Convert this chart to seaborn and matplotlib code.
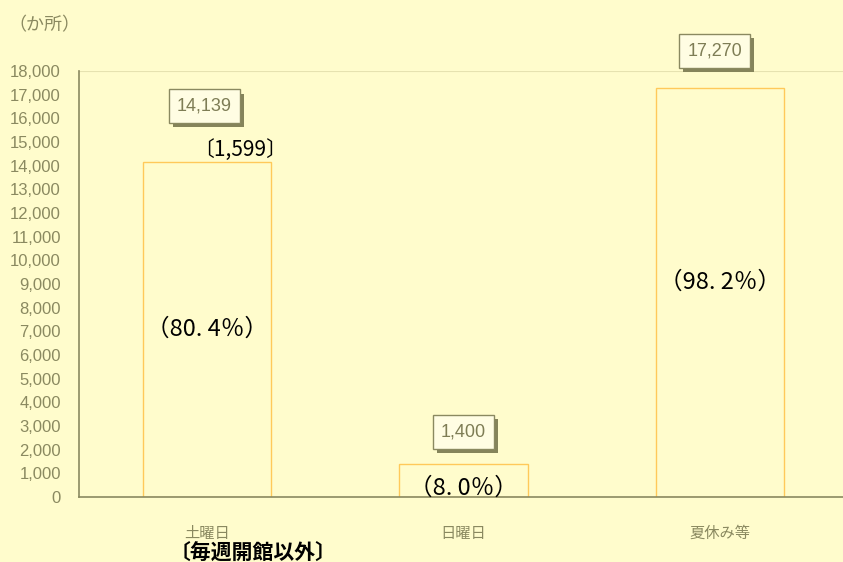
# -*- coding: UTF-8 -*-
import matplotlib
matplotlib.use("Agg")
import matplotlib.pyplot as plt
import matplotlib.patheffects as pe
import seaborn as sns

# data
categories = ["土曜日", "日曜日", "夏休み等"]
values = [14139, 1400, 17270]
value_labels = ["14,139", "1,400", "17,270"]
pct_labels = ["（80. 4％）", "（8. 0％）", "（98. 2％）"]
sub_label = "〔1,599〕"
note_label = "〔毎週開館以外〕"
unit_label = "（か所）"

bg = "#FFFCCC"
olive = "#8A8960"
bar_edge = "#FFC95A"

sns.set_theme(style="white")
plt.rcParams['font.family'] = ['Noto Sans CJK JP', 'DejaVu Sans']
narrow = ['Liberation Sans Narrow', 'Liberation Sans', 'DejaVu Sans']

fig = plt.figure(figsize=(8.43, 5.62), dpi=100, facecolor=bg)
ax = fig.add_axes([79 / 843, 65 / 562, 1 - 79 / 843, 426 / 562])
ax.set_facecolor(bg)

sns.barplot(x=categories, y=values, fill=False, color=bar_edge, width=0.5,
            linewidth=1.0, ax=ax)
for p in ax.patches:
    p.set_edgecolor(bar_edge)

ax.set_ylim(0, 18000)
ax.set_xlim(-0.5, 2.48)
ax.set_yticks(range(0, 18001, 1000))
ax.set_yticklabels([f"{v:,}" for v in range(0, 18001, 1000)],
                   family=narrow, fontsize=12, color=olive)
ax.tick_params(axis='y', direction='in', length=4, color=olive, width=1, pad=13)
ax.set_xticks(range(3))
ax.set_xticklabels(categories, fontsize=11, color=olive)
ax.tick_params(axis='x', length=0, pad=20)
ax.set_xticks([0.5, 1.5], minor=True)
ax.tick_params(axis='x', which='minor', direction='in', length=6, color=olive, width=1)
ax.set_xlabel("")
ax.set_ylabel("")

for s in ["top", "right"]:
    ax.spines[s].set_visible(False)
for s in ["left", "bottom"]:
    ax.spines[s].set_color(olive)
    ax.spines[s].set_linewidth(1.2)
ax.axhline(18000, color="#E6E2B0", lw=1.5, zorder=0)

# value boxes with drop shadow
box_y = [16520, 2750, 18850]
box_x = [-0.01, 1.0, 1.98]
for x, y, lab in zip(box_x, box_y, value_labels):
    t = ax.text(x, y, lab, ha='center', va='center', family=narrow, fontsize=13,
                color="#7E7D55", clip_on=False,
                bbox=dict(boxstyle="square,pad=0.45", fc="#FFFDE3", ec=olive, lw=1))
    t.get_bbox_patch().set_path_effects([
        pe.SimplePatchShadow(offset=(3, -3), shadow_rgbFace="#85845A", alpha=1),
        pe.Normal()])

# percentage labels
pct_y = [7100, 380, 9080]
for i, (lab, y) in enumerate(zip(pct_labels, pct_y)):
    ax.text(i, y, lab, ha='center', va='center', fontsize=17, color="black")

ax.text(0.13, 14650, sub_label, ha='center', va='center', fontsize=15, color="black")

fig.text(8 / 843, 1 - 25 / 562, unit_label, ha='left', va='center',
         fontsize=13, color=olive)
fig.text(253 / 843, 1 - 552 / 562, note_label, ha='center', va='center',
         fontsize=15, color="black", fontweight='bold')

fig.savefig("out.png", dpi=100, facecolor=bg)
